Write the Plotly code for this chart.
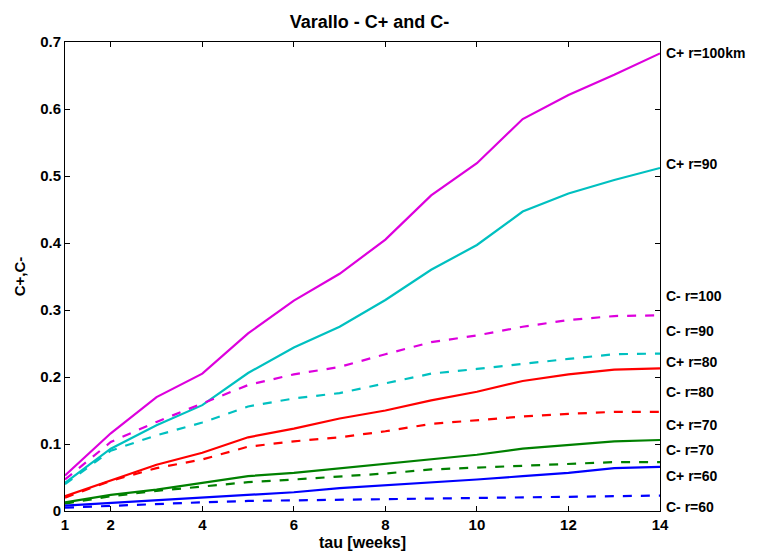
import plotly.graph_objects as go

tau = [1, 2, 3, 4, 5, 6, 7, 8, 9, 10, 11, 12, 13, 14]

cplus_100 = [0.053, 0.116, 0.170, 0.205, 0.265, 0.314, 0.354, 0.405, 0.471, 0.519, 0.585, 0.621, 0.651, 0.683]
cplus_90 = [0.042, 0.093, 0.128, 0.158, 0.206, 0.244, 0.275, 0.315, 0.360, 0.397, 0.447, 0.474, 0.494, 0.512]
cminus_100 = [0.047, 0.103, 0.133, 0.161, 0.188, 0.204, 0.215, 0.234, 0.252, 0.262, 0.275, 0.285, 0.291, 0.292]
cminus_90 = [0.040, 0.090, 0.113, 0.132, 0.156, 0.168, 0.176, 0.190, 0.205, 0.212, 0.220, 0.227, 0.234, 0.235]
cplus_80 = [0.022, 0.046, 0.069, 0.087, 0.110, 0.123, 0.138, 0.150, 0.165, 0.178, 0.194, 0.204, 0.211, 0.213]
cminus_80 = [0.020, 0.045, 0.064, 0.077, 0.096, 0.104, 0.110, 0.119, 0.130, 0.136, 0.141, 0.145, 0.148, 0.148]
cplus_70 = [0.013, 0.024, 0.032, 0.042, 0.052, 0.057, 0.064, 0.071, 0.077, 0.084, 0.093, 0.098, 0.104, 0.106]
cminus_70 = [0.011, 0.022, 0.030, 0.037, 0.043, 0.047, 0.051, 0.056, 0.062, 0.065, 0.067, 0.071, 0.073, 0.073]
cplus_60 = [0.008, 0.012, 0.017, 0.021, 0.025, 0.028, 0.034, 0.038, 0.042, 0.047, 0.052, 0.057, 0.064, 0.066]
cminus_60 = [0.005, 0.008, 0.011, 0.013, 0.015, 0.016, 0.017, 0.018, 0.019, 0.020, 0.021, 0.022, 0.023, 0.023]

series_values = [cplus_100, cplus_90, cminus_100, cminus_90, cplus_80, cminus_80, cplus_70, cminus_70, cplus_60, cminus_60]
series_names = ["C+ r=100", "C+ r=90", "C- r=100", "C- r=90", "C+ r=80", "C- r=80", "C+ r=70", "C- r=70", "C+ r=60", "C- r=60"]
series_colors = ["#DD00DD", "#00C0C0", "#DD00DD", "#00C0C0", "#FF0000", "#FF0000", "#008000", "#008000", "#0000FF", "#0000FF"]
series_dash = ["solid", "solid", "dash", "dash", "solid", "dash", "solid", "dash", "solid", "dash"]

label_texts = ["C+ r=100km", "C+ r=90", "C- r=100", "C- r=90", "C+ r=80", "C- r=80", "C+ r=70", "C- r=70", "C+ r=60", "C- r=60"]
label_y = [0.683, 0.518, 0.321, 0.269, 0.223, 0.177, 0.129, 0.091, 0.052, 0.006]

x_ticks = [1, 2, 4, 6, 8, 10, 12, 14]
y_ticks = [0, 0.1, 0.2, 0.3, 0.4, 0.5, 0.6, 0.7]
y_tick_labels = ["0", "0.1", "0.2", "0.3", "0.4", "0.5", "0.6", "0.7"]

FONT = "Liberation Sans, Arial, sans-serif"

fig = go.Figure()
for vals, name, col, dash in zip(series_values, series_names, series_colors, series_dash):
    fig.add_trace(go.Scatter(
        x=tau, y=vals, mode="lines", name=name,
        line=dict(color=col, width=2.2, dash=dash),
        showlegend=False,
    ))

for txt, yv in zip(label_texts, label_y):
    fig.add_annotation(
        x=1.0, xref="paper", y=yv, yref="y", text="<b>" + txt + "</b>", showarrow=False,
        xanchor="left", yanchor="middle", xshift=4,
        font=dict(family=FONT, size=14, color="black"),
    )

fig.update_layout(
    width=758, height=554,
    margin=dict(l=54, r=106, t=34, b=51),
    paper_bgcolor="white", plot_bgcolor="white",
    title=dict(text="<b>Varallo - C+ and C-</b>", x=361.5 / 758, xanchor="center",
               y=1 - 13.5 / 554, yanchor="middle",
               font=dict(family=FONT, size=18, color="black")),
    font=dict(family=FONT, color="black"),
)

fig.update_xaxes(
    range=[1, 14], tickvals=x_ticks, ticktext=["<b>%d</b>" % t for t in x_ticks],
    ticks="inside", ticklen=5, tickcolor="black", mirror="allticks",
    showline=True, linecolor="black", linewidth=1, showgrid=False, zeroline=False,
    tickfont=dict(family=FONT, size=15, color="black"),
    title=dict(text="<b>tau [weeks]</b>", font=dict(family=FONT, size=16, color="black"), standoff=4),
)
fig.update_yaxes(
    range=[0, 0.7], tickvals=y_ticks, ticktext=["<b>%s</b>" % t for t in y_tick_labels],
    ticks="inside", ticklen=5, tickcolor="black", mirror="allticks",
    showline=True, linecolor="black", linewidth=1, showgrid=False, zeroline=False,
    tickfont=dict(family=FONT, size=15, color="black"),
    title=dict(text="<b>C+,C-</b>", font=dict(family=FONT, size=15, color="black"), standoff=10),
)

fig.write_html("out.html")
